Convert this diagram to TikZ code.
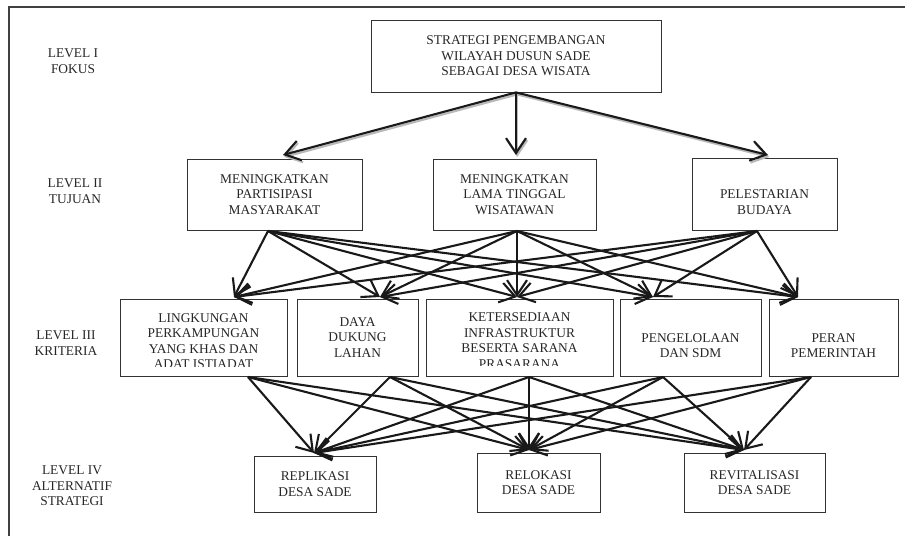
\documentclass[tikz,border=0pt]{standalone}
\usepackage{fontspec}
\setmainfont{Liberation Serif}
\usetikzlibrary{arrows.meta,calc}
\begin{document}
\begin{tikzpicture}
    [
    x=1pt, y=-1pt,
    boxtext/.style={inner sep=0pt,align=center,font=\fontsize{13.4}{15.5}\selectfont,text=black!85},
    box/.style={boxtext,rectangle,draw=black!80,line width=0.85pt},
    link/.style={line width=2.1pt,black!90,-{Straight Barb[length=15pt,width=20pt]}},
    linkshadow/.style={link,draw=gray!55,transform canvas={shift={(1.2pt,-2pt)}}},
    frame/.style={line width=1.8pt,black!75},
    ]
    \useasboundingbox (0,0) rectangle (905,536);
    \draw [frame] (905,7) -- (9,7) -- (9,536);
    % level labels
    \node (lvlI) at (73,61) [boxtext] {LEVEL I\\FOKUS};
    \node (lvlII) at (75,191) [boxtext] {LEVEL II\\TUJUAN};
    \node (lvlIII) at (66,343) [boxtext] {LEVEL III\\KRITERIA};
    \node (lvlIV) at (72,486) [boxtext] {LEVEL IV\\ALTERNATIF\\STRATEGI};
    % level I
    \node (focus) at (516,56) [box,minimum width=290pt,minimum height=72pt]
      {STRATEGI PENGEMBANGAN\\WILAYAH DUSUN SADE\\SEBAGAI DESA WISATA};
    % level II
    \node (goalA) at (274.5,194.5) [box,minimum width=175pt,minimum height=71pt]
      {MENINGKATKAN\\PARTISIPASI\\MASYARAKAT};
    \node (goalB) at (514.5,194.5) [box,minimum width=163pt,minimum height=71pt]
      {MENINGKATKAN\\LAMA TINGGAL\\WISATAWAN};
    \node (goalC) at (764.5,194) [box,minimum width=145pt,minimum height=72pt,
      label={[boxtext,yshift=-8pt]center:PELESTARIAN\\BUDAYA}] {};
    % level III
    \node (critA) at (203.5,337.5) [box,minimum width=167pt,minimum height=77pt] {};
    \node (critB) at (357.5,337.5) [box,minimum width=121pt,minimum height=77pt]
      {DAYA\\DUKUNG\\LAHAN};
    \node (critC) at (519.5,337.5) [box,minimum width=187pt,minimum height=77pt] {};
    \node (critD) at (690.5,337.5) [box,minimum width=141pt,minimum height=77pt,
      label={[boxtext,yshift=-8pt]center:PENGELOLAAN\\DAN SDM}] {};
    \node (critE) at (833.5,337.5) [box,minimum width=129pt,minimum height=77pt,
      label={[boxtext,yshift=-8pt]center:PERAN\\PEMERINTAH}] {};
    \begin{scope}
      \clip (critA.north west) rectangle ($(critA.south east)+(0,-10)$);
      \node (critAtext) at ($(critA.center)+(0,3.5)$) [boxtext]
        {LINGKUNGAN\\PERKAMPUNGAN\\YANG KHAS DAN\\ADAT ISTIADAT};
    \end{scope}
    \begin{scope}
      \clip (critC.north west) rectangle ($(critC.south east)+(0,-11)$);
      \node (critCtext) at ($(critC.center)+(0,3)$) [boxtext]
        {KETERSEDIAAN\\INFRASTRUKTUR\\BESERTA SARANA\\PRASARANA};
    \end{scope}
    % level IV
    \node (altA) at (315,484) [box,minimum width=122pt,minimum height=56pt]
      {REPLIKASI\\DESA SADE};
    \node (altB) at (538.5,482.5) [box,minimum width=123pt,minimum height=59pt]
      {RELOKASI\\DESA SADE};
    \node (altC) at (754.5,482.5) [box,minimum width=141pt,minimum height=59pt]
      {REVITALISASI\\DESA SADE};
    % ports
    \coordinate (goalAin) at (283,155);
    \coordinate (goalBin) at (516,155);
    \coordinate (goalCin) at (768,155);
    \coordinate (goalAout) at (268,231);
    \coordinate (goalBout) at (517,231);
    \coordinate (goalCout) at (757,231);
    \coordinate (critAin) at (234,297);
    \coordinate (critBin) at (380,297);
    \coordinate (critCin) at (517,297);
    \coordinate (critDin) at (653,297);
    \coordinate (critEin) at (798,297);
    \coordinate (critAout) at (248,377);
    \coordinate (critBout) at (390,377);
    \coordinate (critCout) at (529,377);
    \coordinate (critDout) at (663,377);
    \coordinate (critEout) at (811,377);
    \coordinate (altAin) at (314,453);
    \coordinate (altBin) at (529,450);
    \coordinate (altCin) at (744,450);
    % level I to II
    \draw [linkshadow] (focus.south) to (goalAin);
    \draw [linkshadow] (focus.south) to (goalBin);
    \draw [linkshadow] (focus.south) to (goalCin);
    \draw [link] (focus.south) to (goalAin);
    \draw [link] (focus.south) to (goalBin);
    \draw [link] (focus.south) to (goalCin);
    % level II to III
    \draw [link] (goalAout) to (critAin);
    \draw [link] (goalAout) to (critBin);
    \draw [link] (goalAout) to (critCin);
    \draw [link] (goalAout) to (critDin);
    \draw [link] (goalAout) to (critEin);
    \draw [link] (goalBout) to (critAin);
    \draw [link] (goalBout) to (critBin);
    \draw [link] (goalBout) to (critCin);
    \draw [link] (goalBout) to (critDin);
    \draw [link] (goalBout) to (critEin);
    \draw [link] (goalCout) to (critAin);
    \draw [link] (goalCout) to (critBin);
    \draw [link] (goalCout) to (critCin);
    \draw [link] (goalCout) to (critDin);
    \draw [link] (goalCout) to (critEin);
    % level III to IV
    \draw [link] (critAout) to (altAin);
    \draw [link] (critAout) to (altBin);
    \draw [link] (critAout) to (altCin);
    \draw [link] (critBout) to (altAin);
    \draw [link] (critBout) to (altBin);
    \draw [link] (critBout) to (altCin);
    \draw [link] (critCout) to (altAin);
    \draw [link] (critCout) to (altBin);
    \draw [link] (critCout) to (altCin);
    \draw [link] (critDout) to (altAin);
    \draw [link] (critDout) to (altBin);
    \draw [link] (critDout) to (altCin);
    \draw [link] (critEout) to (altAin);
    \draw [link] (critEout) to (altBin);
    \draw [link] (critEout) to (altCin);
  \end{tikzpicture}
\end{document}
